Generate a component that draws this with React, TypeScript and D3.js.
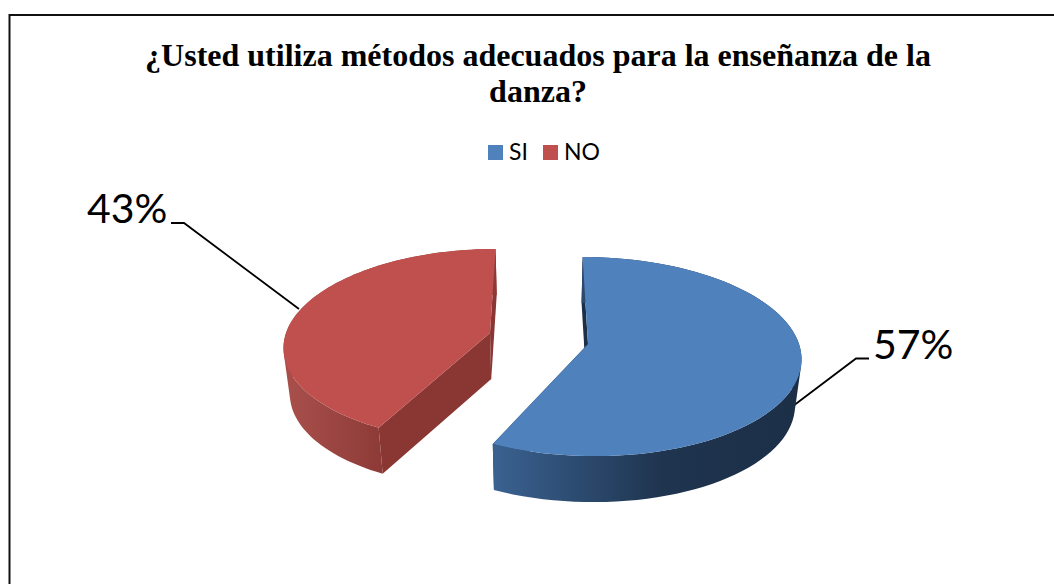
import React from "react";
import * as d3 from "d3";

const categories = ["SI", "NO"];
const values = [57, 43];
const percentLabels = ["57%", "43%"];
const titleLines = ["¿Usted utiliza métodos adecuados para la enseñanza de la", "danza?"];
const topColors = ["#4f81bd", "#c0504d"];
const wallStops = [
  [["0%", "#3a6291"], ["55%", "#1f344f"], ["100%", "#1c2f47"]],
  [["0%", "#a84f4b"], ["100%", "#8c3a37"]],
];
const flatWall = ["#1c2f47", "#8a3633"];

const W = 1054, H = 584;
const VX = 540, PERSP = 0.126, DEPTH = 46, BOTTOM_SCALE = 0.975;
const slices = [
  { x0: 588, y0: 344, rx: 211, ry: 98, startNudge: 0 },
  { x0: 490, y0: 333, rx: 204, ry: 94.6, startNudge: 0.035 },
];
const leaders = [
  [[869, 358.5], [856, 358.5], [793, 406]],
  [[171, 223], [184, 223], [299, 309]],
];

type P = [number, number];
function project(i: number, a: number, r: number, bottom: boolean): P {
  const g = slices[i];
  const u = Math.sin(a) * r, v = -Math.cos(a) * r;
  const s = 1 / (1 - PERSP * v);
  const x = VX + (g.x0 - VX + g.rx * u) * s;
  const y = g.y0 + g.ry * v * s;
  if (!bottom) return [x, y];
  return [VX + (x - VX) * BOTTOM_SCALE, y + DEPTH];
}

export default function App() {
  const arcs = d3.pie<number>().sort(null)(values);
  const line = d3.line<P>();
  const ang = (a: number, b: number, nudge: number) =>
    d3.range(0, 81).map((k) => a + ((b - a) * k) / 80 + nudge * (1 - k / 80));
  // The side wall is the union of one quad per arc step, each wound the same way,
  // so the silhouette joins the top and bottom rims along their tangents.
  const wallPath = (top: P[], bot: P[]) =>
    d3.range(0, top.length - 1).map((k) => {
      const q: P[] = [top[k], top[k + 1], bot[k + 1], bot[k]];
      return line(d3.polygonArea(q) < 0 ? q.reverse() : q)! + "Z";
    }).join("");

  return (
    <svg width={W} height={H} style={{ position: "absolute", left: 0, top: 0 }}>
      <defs>
        {wallStops.map((stops, i) => (
          <linearGradient key={i} id={`wall${i}`} gradientUnits="userSpaceOnUse"
            x1={i === 0 ? 493 : 288} x2={i === 0 ? 800 : 385} y1={0} y2={0}>
            {stops.map(([o, c]) => <stop key={o} offset={o} stopColor={c} />)}
          </linearGradient>
        ))}
      </defs>
      <rect width={W} height={H} fill="#fff" />
      <path d={`M9.5,${H}V15H${W}`} fill="none" stroke="#111" strokeWidth={2} />
      {titleLines.map((t, i) => (
        <text key={t} x={538} y={66 + i * 36} textAnchor="middle" fontFamily="Liberation Serif"
          fontWeight="bold" fontSize={32} fill="#000">{t}</text>
      ))}
      {categories.map((c, i) => {
        const x = [488, 543][i];
        return (
          <g key={c}>
            <rect x={x} y={145} width={15} height={15} fill={topColors[i]} />
            <text x={x + 21} y={160} fontFamily="Lato" fontSize={23} fill="#000">{c}</text>
          </g>
        );
      })}
      {leaders.map((l, i) => (
        <path key={i} d={line(l as P[])!} fill="none" stroke="#000" strokeWidth={1.8} />
      ))}
      {arcs.map((arc, i) => {
        const outer = ang(arc.startAngle, arc.endAngle, slices[i].startNudge);
        const top = outer.map((a) => project(i, a, 1, false));
        const bot = outer.map((a) => project(i, a, 1, true));
        const cT = project(i, 0, 0, false), cB = project(i, 0, 0, true);
        const startWall = [top[0], cT, cB, bot[0]];
        const endWall = [cT, top[top.length - 1], bot[bot.length - 1], cB];
        return (
          <g key={i}>
            <path d={line(startWall)! + "Z"} fill={flatWall[i]} />
            <path d={line(endWall)! + "Z"} fill={flatWall[i]} />
            <path d={wallPath(top, bot)} fill={`url(#wall${i})`} />
            <path d={line([cT, ...top])! + "Z"} fill={topColors[i]} />
          </g>
        );
      })}
      <text x={873} y={359} fontFamily="Lato" fontSize={41} fill="#000">{percentLabels[0]}</text>
      <text x={87} y={223} fontFamily="Lato" fontSize={41} fill="#000">{percentLabels[1]}</text>
    </svg>
  );
}
